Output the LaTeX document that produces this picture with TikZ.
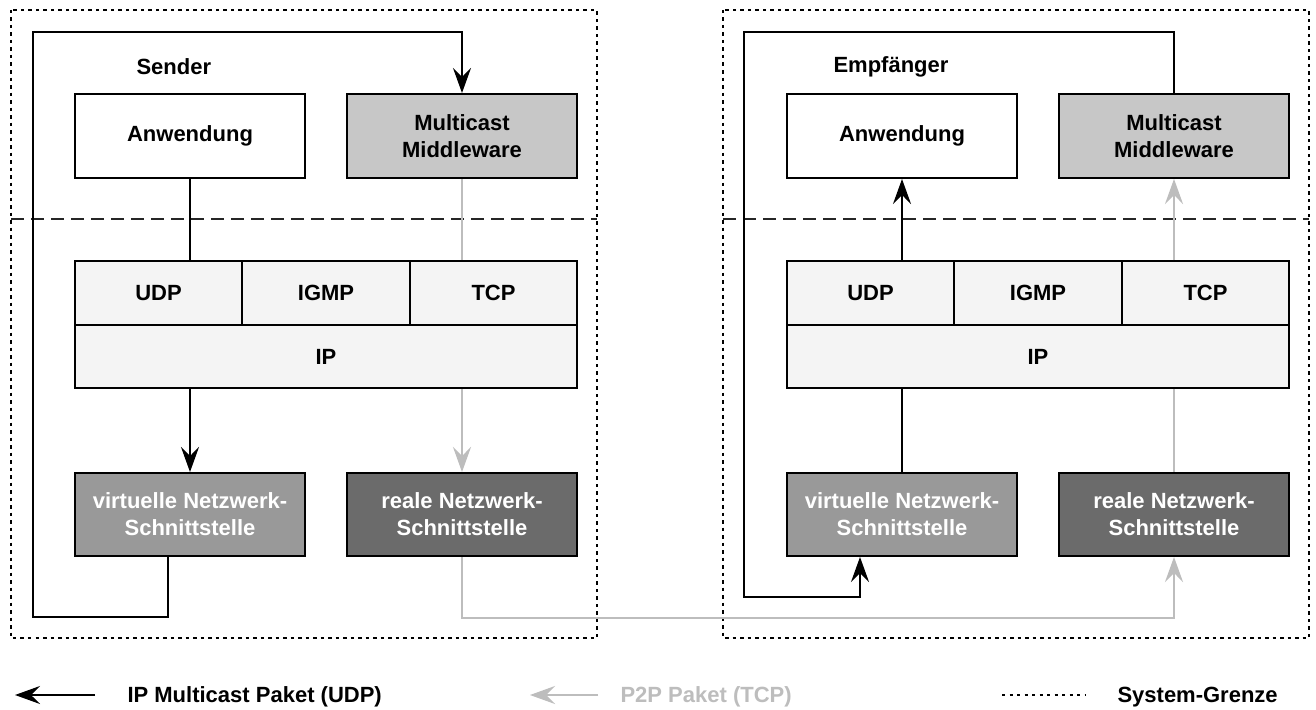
\documentclass[tikz,border=0pt]{standalone}
\usepackage{fontspec}
\setmainfont{Liberation Sans}
\usetikzlibrary{arrows.meta,calc}
\definecolor{mwgray}{gray}{0.78}
\definecolor{vgray}{gray}{0.60}
\definecolor{rgray}{gray}{0.42}
\definecolor{pgray}{gray}{0.955}
\definecolor{lgray}{gray}{0.74}
\tikzset{
  every node/.style={font=\bfseries\fontsize{22}{27}\selectfont},
  box/.style={draw=black, line width=2pt, rectangle, inner sep=0pt, align=center},
  appbox/.style={box, fill=white, minimum width=230pt, minimum height=84pt},
  mwbox/.style={box, fill=mwgray, minimum width=230pt, minimum height=84pt},
  protbox/.style={box, fill=pgray, minimum height=64pt},
  vbox/.style={box, fill=vgray, text=white, minimum width=230pt, minimum height=83pt},
  rbox/.style={box, fill=rgray, text=white, minimum width=230pt, minimum height=83pt},
  tip/.style={-{Stealth[length=25pt,width=18pt,inset=9pt]}},
  udpline/.style={draw=black, line width=1.6pt},
  udparrow/.style={udpline, tip},
  tcpline/.style={draw=lgray, line width=1.3pt},
  tcparrow/.style={tcpline, tip},
  sysline/.style={draw=black, line width=2.4pt, dash pattern=on 3.5pt off 4pt},
  midline/.style={draw=black!85, line width=2pt, dash pattern=on 13pt off 7pt},
  label/.style={anchor=west}
}
\begin{document}
\begin{tikzpicture}[x=1pt,y=-1pt]
\useasboundingbox (0,0) rectangle (1316,709);
\fill[white] (0,0) rectangle (1316,709);

% system boundaries
\draw[sysline] (11,10) rectangle (597,638);
\draw[sysline] (723,10) rectangle (1309,638);
\draw[midline] (11,219) -- (597,219);
\draw[midline] (723,219) -- (1309,219);

% ---------- Sender ----------
\node[label] (sender) at (133,67) {Sender};
\node[appbox] (appL) at (190,136) {Anwendung};
\node[mwbox] (mwL) at (462,136) {Multicast\\Middleware};
\node[protbox, minimum width=167pt] (udpL) at (158.5,293) {UDP};
\node[protbox, minimum width=168pt] (igmpL) at (326,293) {IGMP};
\node[protbox, minimum width=167pt] (tcpL) at (493.5,293) {TCP};
\node[protbox, minimum width=502pt, minimum height=63pt] (ipL) at (326,356.5) {IP};
\node[vbox] (virtL) at (190,514.5) {virtuelle Netzwerk-\\Schnittstelle};
\node[rbox] (realL) at (462,514.5) {reale Netzwerk-\\Schnittstelle};

% ---------- Empfaenger ----------
\node[label] (empf) at (830,67) {Empfänger};
\node[appbox] (appR) at (902,136) {Anwendung};
\node[mwbox] (mwR) at (1174,136) {Multicast\\Middleware};
\node[protbox, minimum width=167pt] (udpR) at (870.5,293) {UDP};
\node[protbox, minimum width=168pt] (igmpR) at (1038,293) {IGMP};
\node[protbox, minimum width=167pt] (tcpR) at (1205.5,293) {TCP};
\node[protbox, minimum width=502pt, minimum height=63pt] (ipR) at (1038,356.5) {IP};
\node[vbox] (virtR) at (902,514.5) {virtuelle Netzwerk-\\Schnittstelle};
\node[rbox] (realR) at (1174,514.5) {reale Netzwerk-\\Schnittstelle};

% ---------- connectors, sender ----------
\draw[udpline] (appL.south) -- (appL.south |- udpL.north);
\draw[udparrow] (virtL.north |- ipL.south) -- (virtL.north);
\draw[tcpline] (mwL.south) -- (mwL.south |- tcpL.north);
\draw[tcparrow] (realL.north |- ipL.south) -- (realL.north);
\coordinate (lA) at (33,617);
\coordinate (lB) at (33,32);
\draw[udparrow] ([xshift=-22pt]virtL.south) |- (lA) -- (lB) -| (mwL.north);

% ---------- connectors, receiver ----------
\draw[udparrow] (appR.south |- udpR.north) -- (appR.south);
\draw[udpline] (virtR.north |- ipR.south) -- (virtR.north);
\draw[tcparrow] (mwR.south |- tcpR.north) -- (mwR.south);
\draw[tcpline] (realR.north |- ipR.south) -- (realR.north);
\coordinate (rA) at (744,32);
\coordinate (rB) at (744,597);
\draw[udparrow] (mwR.north) |- (rA) -- (rB) -| ([xshift=-42pt]virtR.south);

% ---------- P2P connection ----------
\coordinate (pB) at (800,618);
\draw[tcparrow] (realL.south) |- (pB) -| (realR.south);

% ---------- legend ----------
\coordinate (g1s) at (95,695);
\coordinate (g1e) at (15,695);
\draw[udparrow] (g1s) -- (g1e);
\node[label] (g1t) at (124,697) {IP Multicast Paket (UDP)};
\coordinate (g2s) at (598,695);
\coordinate (g2e) at (530,695);
\draw[tcparrow] (g2s) -- (g2e);
\node[label, text=lgray] (g2t) at (617,697) {P2P Paket (TCP)};
\coordinate (g3s) at (1002,695);
\coordinate (g3e) at (1086,695);
\draw[sysline, line width=1.6pt, dash pattern=on 3pt off 4.5pt] (g3s) -- (g3e);
\node[label] (g3t) at (1114,697) {System-Grenze};
\end{tikzpicture}
\end{document}
